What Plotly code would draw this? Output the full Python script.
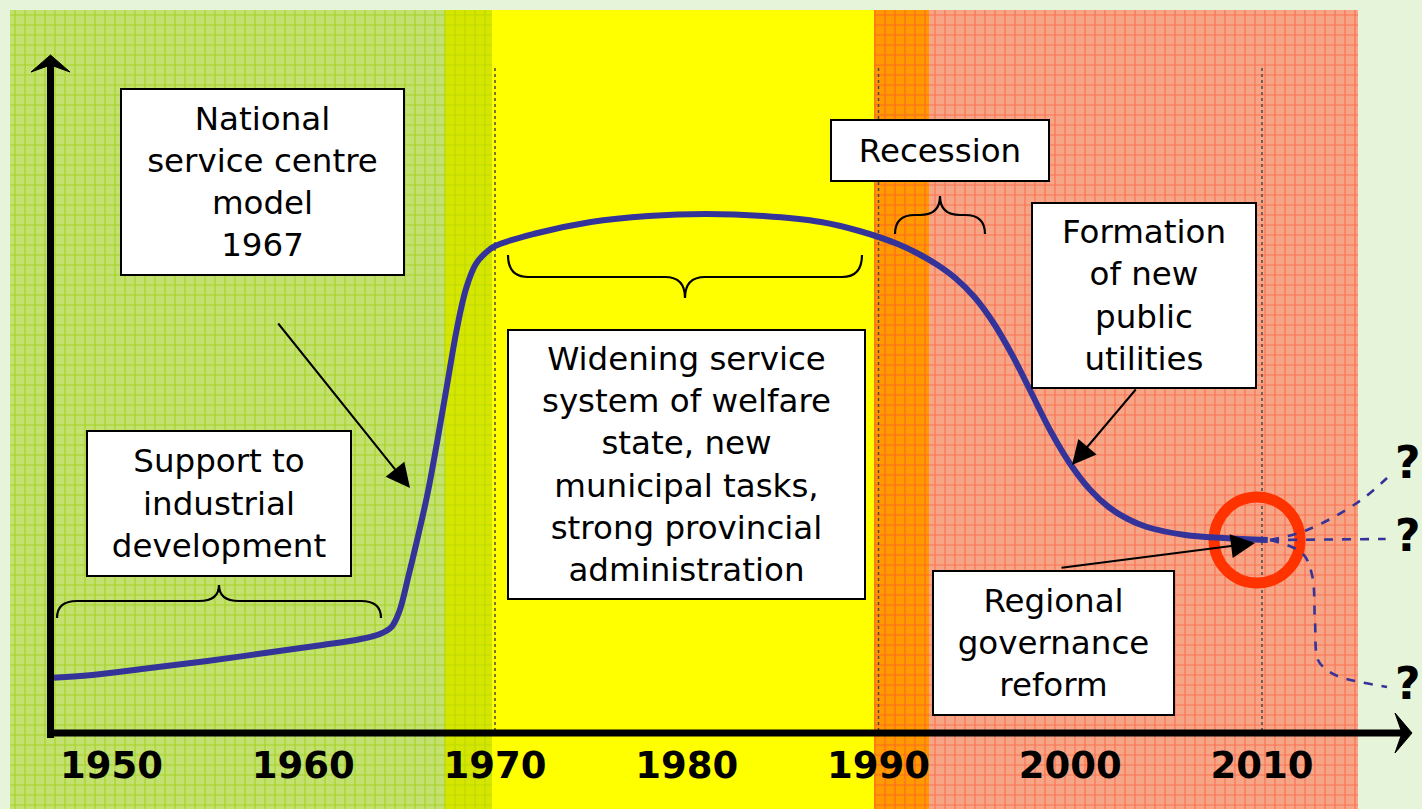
import plotly.graph_objects as go

# ---------------- data ----------------
# background periods (years)
period_start = [1944.7, 1967.4, 1969.85, 1989.75, 1992.63]
period_end = [1967.4, 1969.85, 1989.75, 1992.63, 2015.0]
period_bg = ["#C3E170", "#D5E700", "#FFFF00", "#FF9A00", "#F6A687"]
period_fg = ["#A6D325", "#BDD900", "#FFFF00", "#FF6A22", "#FB7252"]
period_shape = ["+", "+", "", "+", "+"]

# development curve (index level)
curve_years = [1946.7, 1949, 1952, 1955, 1958, 1961, 1963, 1964, 1964.6, 1965, 1965.5,
               1966, 1966.5, 1967, 1967.5, 1968, 1968.5, 1969, 1969.5, 1970, 1972,
               1975, 1978, 1981, 1984, 1987, 1989, 1991, 1992, 1993, 1994, 1995, 1996,
               1997, 1998, 1999, 2000, 2001, 2002, 2003, 2004, 2006, 2008, 2010.3]
curve_level = [57, 60, 67, 74, 82, 90, 96, 101, 108, 123, 160,
               200, 243, 295, 350, 405, 447, 471, 482, 489, 501,
               513, 519, 521, 519, 513, 504, 491, 482, 471, 457, 438, 412,
               379, 341, 303, 271, 246, 228, 216, 208, 200, 197, 195]

# future scenarios (dashed)
up_years = [2010.42, 2012.35, 2014.95, 2016.52]
up_level = [195, 205, 232, 257]
flat_years = [2010.42, 2016.45]
flat_level = [195, 196]
down_years = [2010.42, 2012.09, 2012.61, 2012.76, 2012.92, 2013.39, 2014.07, 2016.52]
down_level = [195, 182, 160, 115, 75, 65, 58, 48]

tick_years = [1950, 1960, 1970, 1980, 1990, 2000, 2010]
tick_labels = ["1950", "1960", "1970", "1980", "1990", "2000", "2010"]
guide_years = [1970, 1990, 2010]

# ---------------- coordinate helpers (layout only) ----------------
X0, PXY = 1944.185, 19.175  # year at left edge, pixels per year
PAGE_BG = "#E6F4D9"


def px2x(px):
    return X0 + px / PXY


def py2y(py):
    return 735 - py


fig = go.Figure()

# background bands
for s, e, bg, fg, shp in zip(period_start, period_end, period_bg, period_fg, period_shape):
    fig.add_trace(go.Bar(
        x=[(s + e) / 2], width=[e - s],
        y=[py2y(10) - py2y(809)], base=py2y(809),
        marker=dict(color=bg, line=dict(width=0),
                    pattern=dict(shape=shp, fgcolor=fg, bgcolor=bg,
                                 size=10, solidity=0.22, fillmode="overlay", fgopacity=1)),
        hoverinfo="skip", showlegend=False))

# guide lines
gx, gy = [], []
for g in guide_years:
    gx += [g, g, None]
    gy += [py2y(68), 0, None]
fig.add_trace(go.Scatter(x=gx, y=gy, mode="lines",
                         line=dict(color="#4a4a4a", width=1.5, dash="dot"),
                         hoverinfo="skip", showlegend=False))

# circle marker
fig.add_trace(go.Scatter(x=[px2x(1257)], y=[py2y(540)], mode="markers",
                         marker=dict(symbol="circle-open", size=86, color="#FF3300",
                                     line=dict(width=11, color="#FF3300")),
                         hoverinfo="skip", showlegend=False))

# main curve
fig.add_trace(go.Scatter(x=curve_years, y=curve_level, mode="lines",
                         line=dict(color="#333399", width=6, shape="spline", smoothing=1.0),
                         hoverinfo="skip", showlegend=False))

# scenario dashed lines
for xs, ys in [(up_years, up_level), (flat_years, flat_level), (down_years, down_level)]:
    fig.add_trace(go.Scatter(x=xs, y=ys, mode="lines",
                             line=dict(color="#333399", width=2.6, dash="dash", shape="spline"),
                             hoverinfo="skip", showlegend=False))

shapes = []


def pth(points, close=True):
    s = "M " + " L ".join(f"{px2x(a)},{py2y(b)}" for a, b in points)
    return s + (" Z" if close else "")


# axes
shapes.append(dict(type="line", xref="x", yref="y", x0=px2x(50.5), x1=px2x(50.5),
                   y0=py2y(738), y1=py2y(64), line=dict(color="black", width=7)))
shapes.append(dict(type="path", xref="x", yref="y",
                   path=pth([(50.5, 55), (70, 72), (50.5, 65), (31, 72)]),
                   fillcolor="black", line=dict(color="black", width=1)))
shapes.append(dict(type="line", xref="x", yref="y", x0=px2x(47), x1=px2x(1402),
                   y0=py2y(733), y1=py2y(733), line=dict(color="black", width=7)))
shapes.append(dict(type="path", xref="x", yref="y",
                   path=pth([(1412, 733), (1395, 713), (1402, 733), (1395, 753)]),
                   fillcolor="black", line=dict(color="black", width=1)))


def brace(x0, x1, yend, ybase, ytip, r=20):
    xm = (x0 + x1) / 2
    P = lambda a, b: f"{px2x(a)},{py2y(b)}"
    return ("M " + P(x0, yend) + " Q " + P(x0, ybase) + " " + P(x0 + r, ybase) +
            " L " + P(xm - r, ybase) + " Q " + P(xm, ybase) + " " + P(xm, ytip) +
            " Q " + P(xm, ybase) + " " + P(xm + r, ybase) +
            " L " + P(x1 - r, ybase) + " Q " + P(x1, ybase) + " " + P(x1, yend))


for b in [(57, 381, 618, 601, 585), (508, 862, 255, 277, 298), (895, 985, 234, 215, 196)]:
    shapes.append(dict(type="path", xref="x", yref="y", path=brace(*b),
                       line=dict(color="black", width=2.2)))

annotations = []
FONT = "DejaVu Sans"
boxes = [
    ("National<br>service centre<br>model<br>1967", 120, 88, 405, 276),
    ("Support to<br>industrial<br>development", 86, 430, 352, 577),
    ("Widening service<br>system of welfare<br>state, new<br>municipal tasks,<br>strong provincial<br>administration", 507, 329, 866, 600),
    ("Recession", 830, 119, 1050, 182),
    ("Formation<br>of new<br>public<br>utilities", 1031, 202, 1257, 389),
    ("Regional<br>governance<br>reform", 932, 570, 1175, 716),
]
for txt, l, t, r, b in boxes:
    annotations.append(dict(text=txt, x=px2x((l + r) / 2), y=py2y((t + b) / 2),
                            xref="x", yref="y", showarrow=False,
                            width=r - l - 4, height=b - t - 4, align="center", valign="middle",
                            bgcolor="white", bordercolor="black", borderwidth=2, borderpad=0,
                            font=dict(family=FONT, size=32.5, color="black")))

for (tx, ty), (hx, hy) in [((277, 322), (410, 488)), ((1137, 388), (1072, 465)), ((1060, 568), (1255, 543))]:
    annotations.append(dict(text="", x=px2x(hx), y=py2y(hy), ax=px2x(tx), ay=py2y(ty),
                            xref="x", yref="y", axref="x", ayref="y", showarrow=True,
                            arrowhead=2, arrowsize=2.4, arrowwidth=2, arrowcolor="black",
                            standoff=0))

for qy in [462, 535, 683]:
    annotations.append(dict(text="<b>?</b>", x=px2x(1408), y=py2y(qy), xref="x", yref="y",
                            showarrow=False, font=dict(family=FONT, size=44, color="black")))

fig.update_layout(
    width=1422, height=809,
    margin=dict(l=0, r=0, t=0, b=0),
    paper_bgcolor=PAGE_BG, plot_bgcolor=PAGE_BG,
    bargap=0, barmode="overlay",
    shapes=shapes, annotations=annotations,
    xaxis=dict(range=[X0, X0 + 1422 / PXY], showgrid=False, zeroline=False, showline=False,
               tickmode="array", tickvals=tick_years, ticktext=tick_labels,
               tickfont=dict(family=FONT, size=37, color="black", weight="bold"),
               ticks="", anchor="free", position=(809 - 735) / 809, ticklabelstandoff=5),
    yaxis=dict(range=[py2y(809), py2y(0)], visible=False, showgrid=False, zeroline=False),
    showlegend=False,
)

fig.write_html(
    "out.html",
    config={"displayModeBar": False},
    post_script=("document.body.style.margin='0';document.body.style.padding='0';"
                 "document.body.style.overflow='hidden';"
                 f"document.body.style.background='{PAGE_BG}';"),
)
